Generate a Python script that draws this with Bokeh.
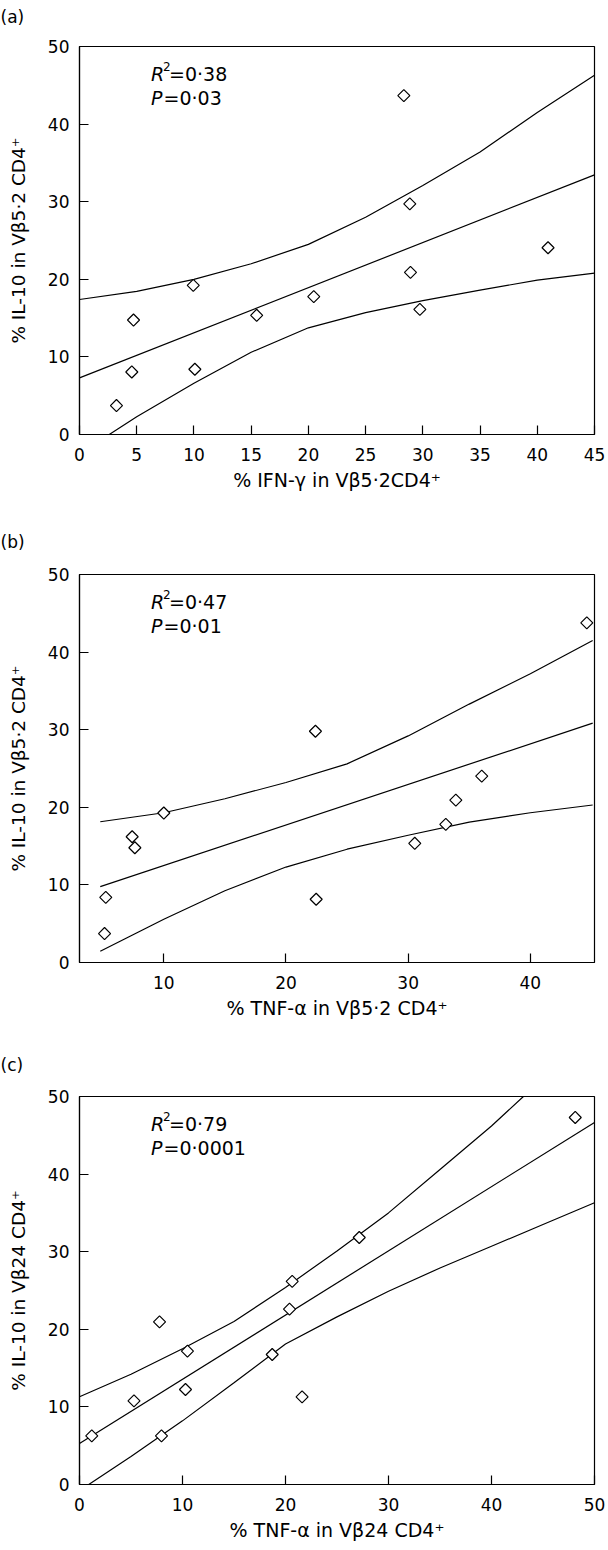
import numpy as np
from bokeh.plotting import figure
from bokeh.layouts import column
from bokeh.models import Range1d, FixedTicker, Label
from bokeh.embed import file_html
from bokeh.resources import INLINE

FONT = "DejaVu Sans"

# ---------------- data: panel (a) ----------------
a_x = [3.23, 4.57, 4.72, 9.94, 10.08, 15.48, 20.47, 28.34, 28.86, 28.92, 29.74, 40.94]
a_y = [3.73, 8.06, 14.75, 19.21, 8.41, 15.36, 17.76, 43.67, 29.72, 20.89, 16.13, 24.07]
a_fit_x = [0, 45]
a_fit_y = [7.29, 33.46]
a_up_x = [0, 5, 10, 15, 20, 25, 30, 35, 40, 45]
a_up_y = [17.4, 18.45, 20.0, 22.0, 24.5, 28.0, 32.1, 36.4, 41.5, 46.3]
a_lo_x = [2.6, 5, 10, 15, 20, 25, 30, 35, 40, 45]
a_lo_y = [0.0, 2.3, 6.6, 10.6, 13.75, 15.7, 17.25, 18.6, 19.9, 20.8]
a_xticks = [0, 5, 10, 15, 20, 25, 30, 35, 40, 45]

# ---------------- data: panel (b) ----------------
b_x = [5.15, 5.25, 7.41, 7.63, 10.0, 22.41, 22.47, 30.54, 33.08, 33.9, 36.02, 44.62]
b_y = [3.73, 8.4, 16.2, 14.79, 19.26, 29.8, 8.15, 15.36, 17.8, 20.93, 24.02, 43.76]
b_fit_x = [4.8, 45.1]
b_fit_y = [9.78, 30.84]
b_up_x = [4.8, 10, 15, 20, 25, 30, 35, 40, 45.1]
b_up_y = [18.14, 19.3, 21.1, 23.2, 25.6, 29.2, 33.3, 37.2, 41.5]
b_lo_x = [4.8, 10, 15, 20, 25, 30, 35, 40, 45.1]
b_lo_y = [1.45, 5.57, 9.25, 12.3, 14.6, 16.4, 18.1, 19.3, 20.3]
b_xticks = [10, 20, 30, 40]

# ---------------- data: panel (c) ----------------
c_x = [1.19, 5.29, 7.77, 7.96, 10.29, 10.48, 18.71, 20.39, 20.65, 21.61, 27.16, 48.13]
c_y = [6.27, 10.78, 20.96, 6.27, 12.24, 17.18, 16.75, 22.6, 26.18, 11.3, 31.83, 47.3]
c_fit_x = [0, 50]
c_fit_y = [5.29, 46.65]
c_up_x = [0, 5, 10, 15, 20, 25, 30, 35, 40, 43.1]
c_up_y = [11.3, 14.2, 17.5, 21.0, 25.4, 30.1, 35.0, 40.6, 46.2, 50.0]
c_lo_x = [0.9, 5, 10, 15, 20, 25, 30, 35, 40, 45, 50]
c_lo_y = [0.0, 3.6, 8.2, 13.1, 18.1, 21.6, 24.9, 27.9, 30.7, 33.5, 36.3]
c_xticks = [0, 10, 20, 30, 40, 50]

yticks = [0, 10, 20, 30, 40, 50]

FRAME_W = 515
FRAME_H = 388


def make_panel(tag, tag_lh, xr, xticks, xs, ys, fit, up, lo,
               xlabel, ylabel, r2, pval, height, top, bottom):
    p = figure(width=608, height=height,
               x_range=Range1d(*xr), y_range=Range1d(0, 50),
               output_backend="svg", toolbar_location=None,
               min_border_left=79, min_border_right=14,
               min_border_top=top, min_border_bottom=bottom)
    p.xgrid.visible = False
    p.ygrid.visible = False
    p.outline_line_color = "black"
    p.outline_line_width = 1.2
    p.outline_line_alpha = 1.0
    p.background_fill_color = "white"
    p.border_fill_color = "white"

    # panel letter as the plot title (two-line box lifts the letter up)
    p.title.text = tag + "\n"
    p.title.align = "left"
    p.title.vertical_align = "bottom"
    p.title.offset = -79
    p.title.standoff = 0
    p.title.text_line_height = tag_lh
    p.title.text_font = FONT
    p.title.text_font_size = "17px"
    p.title.text_font_style = "normal"
    p.title.text_color = "black"

    p.xaxis.ticker = FixedTicker(ticks=xticks)
    p.yaxis.ticker = FixedTicker(ticks=yticks)
    for ax in (p.xaxis[0], p.yaxis[0]):
        ax.major_tick_in = 9
        ax.major_tick_out = 0
        ax.minor_tick_line_color = None
        ax.major_tick_line_color = "black"
        ax.major_tick_line_width = 1.2
        ax.axis_line_color = "black"
        ax.axis_line_width = 1.2
        ax.major_label_text_font = FONT
        ax.major_label_text_font_size = "17px"
        ax.major_label_text_color = "black"
        ax.axis_label_text_font = FONT
        ax.axis_label_text_font_style = "normal"
        ax.axis_label_text_color = "black"
    p.xaxis.axis_label_text_font_size = "19px"
    p.yaxis.axis_label_text_font_size = "18.5px"
    p.xaxis.major_label_standoff = 13
    p.yaxis.major_label_standoff = 10
    p.xaxis.axis_label_standoff = 5
    p.yaxis.axis_label_standoff = 16
    p.xaxis.axis_label = xlabel
    p.yaxis.axis_label = ylabel

    # regression line and confidence band
    for cx, cy in (fit, up, lo):
        p.line(cx, cy, line_color="black", line_width=1.2)
    p.scatter(xs, ys, marker="square", size=8.5, angle=np.pi / 4,
              fill_color="white", line_color="black", line_width=1.2)

    sx = (xr[1] - xr[0]) / FRAME_W
    sy = 50.0 / FRAME_H

    def put(px, py, text, size, style="normal"):
        p.add_layout(Label(x=xr[0] + px * sx, y=50 - py * sy, text=text,
                           text_font=FONT, text_font_size=size,
                           text_font_style=style, text_color="black",
                           text_baseline="alphabetic", text_align="left"))

    put(71.5, 27.0, "R", "19px", "italic")
    put(83.5, 19.5, "2", "12px")
    put(89.5, 27.0, "=" + r2, "19px")
    put(71.5, 51.0, "P", "19px", "italic")
    put(84.0, 51.0, "=" + pval, "19px")
    return p


pa = make_panel("(a)", 1.0, (0, 45), a_xticks, a_x, a_y,
                (a_fit_x, a_fit_y), (a_up_x, a_up_y), (a_lo_x, a_lo_y),
                "% IFN-\u03b3 in V\u03b25\u00b72CD4\u207a",
                "% IL-10 in V\u03b25\u00b72 CD4\u207a",
                "0\u00b738", "0\u00b703", 520, 46, 86)
pb = make_panel("(b)", 1.14, (3.1, 45.25), b_xticks, b_x, b_y,
                (b_fit_x, b_fit_y), (b_up_x, b_up_y), (b_lo_x, b_lo_y),
                "% TNF-\u03b1 in V\u03b25\u00b72 CD4\u207a",
                "% IL-10 in V\u03b25\u00b72 CD4\u207a",
                "0\u00b747", "0\u00b701", 528, 54, 86)
pc = make_panel("(c)", 1.06, (0, 50), c_xticks, c_x, c_y,
                (c_fit_x, c_fit_y), (c_up_x, c_up_y), (c_lo_x, c_lo_y),
                "% TNF-\u03b1 in V\u03b224 CD4\u207a",
                "% IL-10 in V\u03b224 CD4\u207a",
                "0\u00b779", "0\u00b70001", 502, 48, 66)

layout = column(pa, pb, pc, spacing=0)
open("out.html", "w").write(file_html(layout, INLINE))
